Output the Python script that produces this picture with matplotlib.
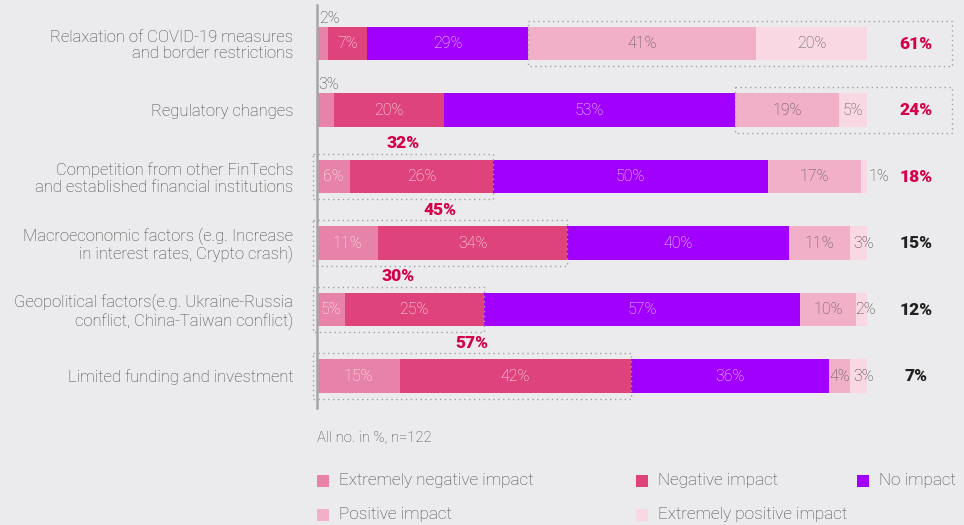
import matplotlib
matplotlib.use("Agg")
import matplotlib.pyplot as plt
from matplotlib.patches import Rectangle
import numpy as np

categories = [
    "Relaxation of COVID-19 measures\nand border restrictions",
    "Regulatory changes",
    "Competition from other FinTechs\nand established financial institutions",
    "Macroeconomic factors (e.g. Increase\nin interest rates, Crypto crash)",
    "Geopolitical factors(e.g. Ukraine-Russia\nconflict, China-Taiwan conflict)",
    "Limited funding and investment",
]
series_names = ["Extremely negative impact", "Negative impact", "No impact",
                "Positive impact", "Extremely positive impact"]
extremely_negative = [2, 3, 6, 11, 5, 15]
negative = [7, 20, 26, 34, 25, 42]
no_impact = [29, 53, 50, 40, 57, 36]
positive = [41, 19, 17, 11, 10, 4]
extremely_positive = [20, 5, 1, 3, 2, 3]
positive_totals = [61, 24, 18, 15, 12, 7]
negative_totals = [9, 23, 32, 45, 30, 57]
highlight_side = ["pos", "pos", "neg", "neg", "neg", "neg"]
note = "All no. in %, n=122"

colors = ["#e782a8", "#de447b", "#a100ff", "#f1b0c8", "#f9d8e3"]
text_colors = ["#fbeef3", "#fbeef3", "#f3e6ff", "#555555", "#555555"]
RED = "#d4004c"
DARK = "#222222"
BG = "#ebebed"
FONT = "Roboto"

W, H = 964, 525
fig = plt.figure(figsize=(W / 100, H / 100), dpi=100, facecolor=BG)
x0, x1 = 317, 867
ytop, ybot = 5, 408
ax = fig.add_axes([x0 / W, 1 - ybot / H, (x1 - x0) / W, (ybot - ytop) / H])
ax.set_facecolor(BG)
ax.set_xlim(0, 100)
ax.set_ylim(5.48, -0.58)
for s in ["top", "right", "bottom"]:
    ax.spines[s].set_visible(False)
ax.spines["left"].set_color("#a6a6a6")
ax.spines["left"].set_linewidth(1.8)
ax.set_xticks([])
ax.set_yticks(range(len(categories)))
ax.set_yticklabels(categories, fontsize=12, color="#444444", family=FONT,
                   fontweight="light", linespacing=1.1)
ax.tick_params(axis="y", length=0, pad=17)

data = np.array([extremely_negative, negative, no_impact, positive, extremely_positive], dtype=float)
totals = data.sum(axis=0)
norm = data / totals * 100
ypos = np.arange(len(categories))
bar_h = 0.5
SEG_FS = 11.5
left = np.zeros(len(categories))
for i in range(5):
    ax.barh(ypos, norm[i], left=left, height=bar_h, color=colors[i], edgecolor="none")
    for r in range(len(categories)):
        v = int(data[i, r])
        cx = left[r] + norm[i, r] / 2
        if i == 0 and v < 4:
            ax.text(0.3, r - bar_h / 2 - 0.02, f"{v}%", ha="left", va="bottom",
                    fontsize=SEG_FS, color="#444444", family=FONT, fontweight="light")
        elif i == 4 and v <= 1:
            ax.text(left[r] + norm[i, r] + 0.2, r, f"{v}%", ha="left", va="center",
                    fontsize=SEG_FS, color="#444444", family=FONT, fontweight="light")
        elif i == 4 and v <= 3:
            ax.text(cx + 0.8, r, f"{v}%", ha="center", va="center",
                    fontsize=SEG_FS, color="#444444", family=FONT, fontweight="light")
        else:
            ax.text(cx, r, f"{v}%", ha="center", va="center", fontsize=SEG_FS,
                    color=text_colors[i], family=FONT, fontweight="light")
    left += norm[i]

box_right = 115.5
box_half = 0.34
TOT_FS = 12.5
cum = np.cumsum(norm, axis=0)
for r in range(len(categories)):
    if highlight_side[r] == "pos":
        bx0 = cum[2, r]
        bx1 = box_right
    else:
        bx0 = -0.7
        bx1 = cum[1, r]
        ax.text((bx0 + bx1) / 2, r - box_half - 0.04, f"{negative_totals[r]}%",
                ha="center", va="bottom", fontsize=TOT_FS, color=RED, family=FONT,
                fontweight="black")
    ax.text(108.9, r, f"{positive_totals[r]}%", ha="center", va="center",
            fontsize=TOT_FS, color=RED if r < 3 else DARK, family=FONT,
            fontweight="black")
    rect = Rectangle((bx0, r - box_half), bx1 - bx0, 2 * box_half, fill=False,
                     edgecolor="#a0a0a0", linewidth=1.0, linestyle=(0, (1, 2.5)),
                     clip_on=False, zorder=5)
    ax.add_patch(rect)

fig.text(317 / W, 1 - 438 / H, note, ha="left", va="center", fontsize=10.7,
         color="#444444", family=FONT, fontweight="light")

leg_pos = [(317, 481), (636, 481), (857, 481), (317, 515), (636, 515)]
sq = 12
for (lx, ly), name, c in zip(leg_pos, series_names, colors):
    fig.patches.append(Rectangle((lx / W, 1 - (ly + sq / 2) / H), sq / W, sq / H,
                                 transform=fig.transFigure, facecolor=c,
                                 edgecolor="none"))
    fig.text((lx + 22) / W, 1 - ly / H, name, ha="left", va="center", fontsize=12.3,
             color="#444444", family=FONT, fontweight="light")

fig.savefig("out.png", dpi=100, facecolor=BG)
